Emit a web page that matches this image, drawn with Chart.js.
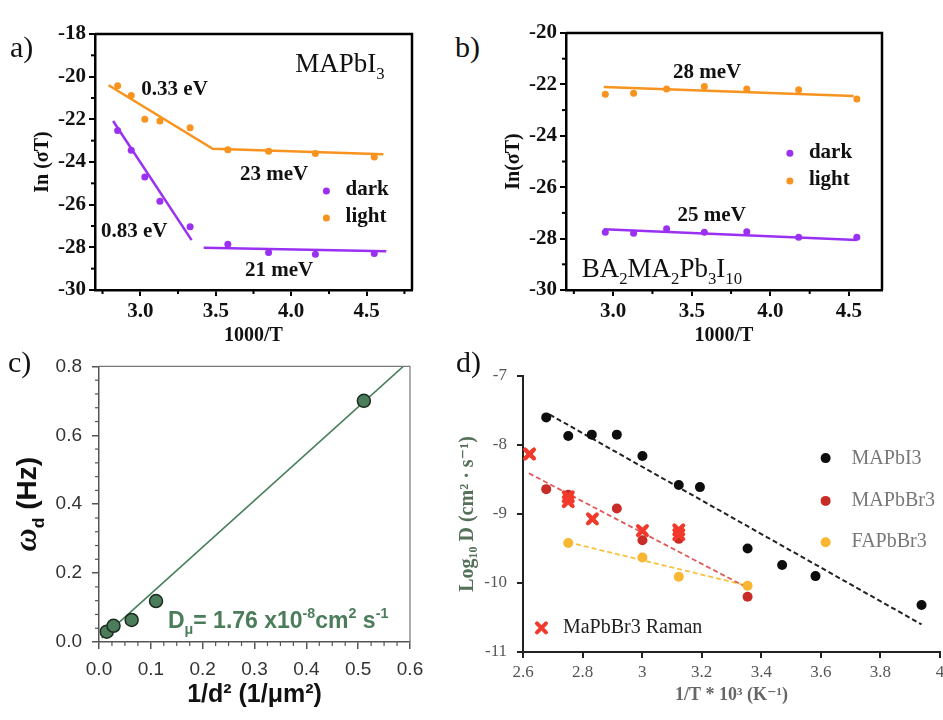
<!DOCTYPE html>
<html>
<head>
<meta charset="utf-8">
<script src="https://cdn.jsdelivr.net/npm/chart.js@4.4.1/dist/chart.umd.min.js"></script>
<style>
body { margin: 0; background: #fff; }
#fig { position: relative; width: 943px; height: 720px; overflow: hidden; background: #fff; }
canvas { position: absolute; }
.lab { position: absolute; font-family: "Liberation Serif", "DejaVu Serif", serif; font-size: 30px; line-height: 30px; color: #111; z-index: 2; }
</style>
</head>
<body>
<div id="fig">
  <canvas id="ca" width="420" height="350" style="left:30px;top:0px"></canvas>
  <canvas id="cb" width="420" height="350" style="left:500px;top:0px"></canvas>
  <canvas id="cc" width="470" height="375" style="left:0px;top:345px"></canvas>
  <canvas id="cd" width="505" height="375" style="left:445px;top:345px"></canvas>
  <div class="lab" style="left:10px;top:32px">a)</div>
  <div class="lab" style="left:455px;top:32px">b)</div>
  <div class="lab" style="left:8px;top:347px">c)</div>
  <div class="lab" style="left:456px;top:347px">d)</div>
</div>
<script>
// ---- panel a : MAPbI3 ----
const aX = [2.85, 2.94, 3.03, 3.13, 3.33, 3.58, 3.85, 4.16, 4.55];
const aLight = [-20.42, -20.88, -22.0, -22.08, -22.39, -23.42, -23.5, -23.6, -23.77];
const aDark = [-22.52, -23.45, -24.7, -25.84, -27.04, -27.85, -28.24, -28.32, -28.29];
const aLightFitX = [2.79, 3.48, 4.61];
const aLightFitY = [-20.4, -23.38, -23.64];
const aDarkFit1X = [2.82, 3.34];
const aDarkFit1Y = [-22.08, -27.66];
const aDarkFit2X = [3.42, 4.63];
const aDarkFit2Y = [-28.02, -28.18];
const aTicksX = [3.0, 3.5, 4.0, 4.5];
const aTicksY = [-30, -28, -26, -24, -22, -20, -18];
const aMinorX = [2.75, 3.25, 3.75, 4.25, 4.75];
const aMinorY = [-29, -27, -25, -23, -21, -19];

// ---- panel b : BA2MA2Pb3I10 ----
const bX = [2.95, 3.13, 3.34, 3.58, 3.85, 4.18, 4.55];
const bLight = [-22.38, -22.34, -22.18, -22.08, -22.18, -22.21, -22.57];
const bDark = [-27.75, -27.79, -27.62, -27.75, -27.73, -27.95, -27.95];
const bLightFitX = [2.94, 4.53];
const bLightFitY = [-22.1, -22.45];
const bDarkFitX = [2.94, 4.55];
const bDarkFitY = [-27.64, -28.05];
const bTicksX = [3.0, 3.5, 4.0, 4.5];
const bTicksY = [-30, -28, -26, -24, -22, -20];
const bMinorX = [2.75, 3.25, 3.75, 4.25];
const bMinorY = [-29, -27, -25, -23, -21];

// ---- panel c : omega_d vs 1/d^2 ----
const cX = [0.015, 0.028, 0.063, 0.11, 0.511];
const cY = [0.030, 0.047, 0.064, 0.119, 0.70];
const cFitX = [0.005, 0.587];
const cFitY = [0.011, 0.8];
const cTicksX = [0.0, 0.1, 0.2, 0.3, 0.4, 0.5, 0.6];
const cTicksY = [0.0, 0.2, 0.4, 0.6, 0.8];
const cMinorX = [0.025, 0.05, 0.075, 0.125, 0.15, 0.175, 0.225, 0.25, 0.275, 0.325, 0.35, 0.375,
                 0.425, 0.45, 0.475, 0.525, 0.55, 0.575];
const cMinorY = [0.04, 0.08, 0.12, 0.16, 0.24, 0.28, 0.32, 0.36, 0.44, 0.48, 0.52, 0.56, 0.64, 0.68, 0.72, 0.76];

// ---- panel d : log10 D vs 1/T ----
const dIX = [2.678, 2.752, 2.831, 2.915, 3.001, 3.123, 3.194, 3.354, 3.47, 3.582, 3.938];
const dIY = [-7.60, -7.87, -7.85, -7.85, -8.16, -8.58, -8.61, -9.50, -9.74, -9.90, -10.32];
const dIFitX = [2.69, 3.938];
const dIFitY = [-7.56, -10.60];
const dBrX = [2.678, 2.752, 2.915, 3.001, 3.123, 3.354];
const dBrY = [-8.64, -8.72, -8.92, -9.38, -9.36, -10.20];
const dBrFitX = [2.62, 3.354];
const dBrFitY = [-8.41, -10.07];
const dFAX = [2.752, 3.001, 3.123, 3.354];
const dFAY = [-9.42, -9.63, -9.91, -10.04];
const dFAFitX = [2.752, 3.354];
const dFAFitY = [-9.41, -10.04];
const dRamanX = [2.622, 2.752, 2.752, 2.833, 3.001, 3.123, 3.123];
const dRamanY = [-8.13, -8.75, -8.82, -9.07, -9.24, -9.23, -9.30];
const dTicksX = [2.6, 2.8, 3, 3.2, 3.4, 3.6, 3.8, 4];
const dTicksY = [-11, -10, -9, -8, -7];

const PURPLE = '#9a30f2';
const ORANGE = '#f7931e';
const GREEN = '#4b7d5b';
const RAMAN = '#f23a2c';
const SERIF = '"Liberation Serif", "DejaVu Serif", serif';
const SANS = '"Liberation Sans", Arial, sans-serif';

function pts(xs, ys) {
    return xs.map((x, i) => ({x: x, y: ys[i]}));
}

// text with sub / superscript runs
function drawRuns(ctx, runs, x, y, font, color, align) {
    let total = 0;
    const parts = runs.map(r => {
        const small = r.sub || r.sup;
        const size = small ? font.size * 0.62 : (r.size || font.size);
        const f = (r.style || font.style || 'normal') + ' ' + (font.weight || 'normal') + ' ' + size + 'px ' + (r.family || font.family);
        ctx.font = f;
        const w = ctx.measureText(r.t).width;
        total += w;
        return {t: r.t, f: f, w: w, dy: r.sub ? font.size * 0.28 : r.sup ? -font.size * 0.42 : 0};
    });
    let cx = align === 'center' ? x - total / 2 : align === 'right' ? x - total : x;
    ctx.fillStyle = color;
    ctx.textAlign = 'left';
    ctx.textBaseline = 'alphabetic';
    parts.forEach(p => {
        ctx.font = p.f;
        ctx.fillText(p.t, cx, y + p.dy);
        cx += p.w;
    });
}

function drawCross(ctx, x, y, r, color) {
    ctx.strokeStyle = color;
    ctx.lineWidth = 4;
    ctx.lineCap = 'round';
    ctx.beginPath();
    ctx.moveTo(x - r, y - r); ctx.lineTo(x + r, y + r);
    ctx.moveTo(x + r, y - r); ctx.lineTo(x - r, y + r);
    ctx.stroke();
}

// frame, minor ticks, annotations and hand-made legends
const extras = {
    id: 'extras',
    afterDatasetsDraw(chart, args, opts) {
        const ctx = chart.ctx, xs = chart.scales.x, ys = chart.scales.y, ca = chart.chartArea;
        ctx.save();
        if (opts.box) {
            ctx.strokeStyle = opts.box.color;
            ctx.lineWidth = opts.box.width;
            ctx.beginPath();
            ctx.moveTo(ca.left, ca.top);
            ctx.lineTo(ca.right, ca.top);
            ctx.lineTo(ca.right, ca.bottom);
            ctx.stroke();
        }
        ctx.strokeStyle = opts.minorColor || '#000';
        ctx.lineWidth = opts.minorWidth || 1.5;
        (opts.minorX || []).forEach(v => {
            const px = xs.getPixelForValue(v);
            ctx.beginPath();
            ctx.moveTo(px, ca.bottom);
            ctx.lineTo(px, ca.bottom + opts.minorLen);
            ctx.stroke();
        });
        (opts.minorY || []).forEach(v => {
            const py = ys.getPixelForValue(v);
            ctx.beginPath();
            ctx.moveTo(ca.left, py);
            ctx.lineTo(ca.left - opts.minorLen, py);
            ctx.stroke();
        });
        // Raman crosses drawn heavier than the built-in point style
        (opts.crosses || []).forEach(c => {
            c.x.forEach((v, i) => drawCross(ctx, xs.getPixelForValue(v), ys.getPixelForValue(c.y[i]), c.r, c.color));
        });
        (opts.items || []).forEach(it => {
            const px = xs.getPixelForValue(it.x), py = ys.getPixelForValue(it.y);
            if (it.dot) {
                ctx.fillStyle = it.dot;
                ctx.beginPath();
                ctx.arc(px, py, it.r, 0, Math.PI * 2);
                ctx.fill();
            } else if (it.cross) {
                drawCross(ctx, px, py, it.r, it.cross);
            } else {
                drawRuns(ctx, it.runs, px, py, it.font, it.color, it.align);
            }
        });
        if (opts.yTitle) {
            const t = opts.yTitle;
            ctx.translate(t.x, (ca.top + ca.bottom) / 2);
            ctx.rotate(-Math.PI / 2);
            drawRuns(ctx, t.runs, 0, 0, t.font, t.color, 'center');
        }
        ctx.restore();
    }
};

function axis(o) {
    return {
        type: 'linear',
        position: o.pos,
        min: o.min, max: o.max,
        afterBuildTicks: s => { s.ticks = o.ticks.map(v => ({value: v})); },
        afterFit: s => { if (o.pos === 'left') s.width = o.size; else s.height = o.size; },
        ticks: {
            font: o.font, color: o.color, padding: o.pad, maxRotation: 0, autoSkip: false,
            callback: o.fmt
        },
        grid: { display: true, drawOnChartArea: false, drawTicks: true, tickLength: o.tl, color: o.lineColor, lineWidth: o.lineW },
        border: { display: true, color: o.lineColor, width: o.borderW },
        title: { display: !!o.title, text: o.title, font: o.titleFont, color: o.titleColor || o.color, padding: o.titlePad }
    };
}

function scatterChart(id, datasets, padding, scales, extraOpts) {
    return new Chart(document.getElementById(id), {
        type: 'scatter',
        data: { datasets: datasets },
        options: {
            responsive: false, animation: false, devicePixelRatio: 1,
            layout: { padding: padding },
            plugins: { legend: { display: false }, tooltip: { enabled: false }, extras: extraOpts },
            scales: scales
        },
        plugins: [extras]
    });
}

function dots(xs, ys, color, r) {
    return { data: pts(xs, ys), pointRadius: r, pointBackgroundColor: color, pointBorderWidth: 0, order: 1 };
}
function fit(xs, ys, color, w, dash) {
    return { data: pts(xs, ys), showLine: true, pointRadius: 0, borderColor: color, borderWidth: w,
             borderDash: dash || [], fill: false, tension: 0, order: 2 };
}

const abTickFont = { family: SERIF, size: 21, weight: 'bold' };
const abTitleFont = { family: SERIF, size: 20, weight: 'bold' };
const fmt1 = v => v.toFixed(1);
const fmt0 = v => String(v);
const boldSerif = { family: SERIF, size: 21, weight: 'bold' };

// ---------- a ----------
scatterChart('ca', [
    fit(aLightFitX, aLightFitY, ORANGE, 2.5),
    fit(aDarkFit1X, aDarkFit1Y, PURPLE, 2.5),
    fit(aDarkFit2X, aDarkFit2Y, PURPLE, 2.5),
    dots(aX, aLight, ORANGE, 3.5),
    dots(aX, aDark, PURPLE, 3.5)
], { left: 0, right: 38, top: 34, bottom: 0 }, {
    x: axis({ pos: 'bottom', min: 2.7, max: 4.8, ticks: aTicksX, size: 60, font: abTickFont, color: '#111', pad: 3, tl: 6,
              fmt: fmt1, lineColor: '#000', lineW: 2, borderW: 2.5, title: '1000/T', titleFont: abTitleFont, titlePad: { top: 0, bottom: 2 } }),
    y: axis({ pos: 'left', min: -30, max: -18, ticks: aTicksY, size: 65, font: abTickFont, color: '#111', pad: 3, tl: 6,
              fmt: fmt0, lineColor: '#000', lineW: 2, borderW: 2.5, title: 'In (σT)', titleFont: abTitleFont, titlePad: { top: 1, bottom: 0 } })
}, {
    box: { color: '#000', width: 2.5 }, minorX: aMinorX, minorY: aMinorY, minorLen: 4, minorWidth: 2,
    items: [
        { x: 3.007, y: -20.86, runs: [{ t: '0.33 eV' }], font: boldSerif, color: '#111' },
        { x: 3.66, y: -24.84, runs: [{ t: '23 meV' }], font: boldSerif, color: '#111' },
        { x: 2.74, y: -27.5, runs: [{ t: '0.83 eV' }], font: boldSerif, color: '#111' },
        { x: 3.693, y: -29.35, runs: [{ t: '21 meV' }], font: boldSerif, color: '#111' },
        { x: 4.027, y: -19.77, runs: [{ t: 'MAPbI' }, { t: '3', sub: true }], font: { family: SERIF, size: 27 }, color: '#111' },
        { x: 4.233, y: -25.36, dot: PURPLE, r: 3.5 },
        { x: 4.36, y: -25.55, runs: [{ t: 'dark' }], font: boldSerif, color: '#111' },
        { x: 4.233, y: -26.63, dot: ORANGE, r: 3.5 },
        { x: 4.36, y: -26.8, runs: [{ t: 'light' }], font: boldSerif, color: '#111' }
    ]
});

// ---------- b ----------
scatterChart('cb', [
    fit(bLightFitX, bLightFitY, ORANGE, 2.5),
    fit(bDarkFitX, bDarkFitY, PURPLE, 2.5),
    dots(bX, bLight, ORANGE, 3.5),
    dots(bX, bDark, PURPLE, 3.5)
], { left: 0, right: 38, top: 33, bottom: 0 }, {
    x: axis({ pos: 'bottom', min: 2.7, max: 4.71, ticks: bTicksX, size: 60, font: abTickFont, color: '#111', pad: 3, tl: 6,
              fmt: fmt1, lineColor: '#000', lineW: 2, borderW: 2.5, title: '1000/T', titleFont: abTitleFont, titlePad: { top: 0, bottom: 2 } }),
    y: axis({ pos: 'left', min: -30, max: -20, ticks: bTicksY, size: 66, font: abTickFont, color: '#111', pad: 3, tl: 6,
              fmt: fmt0, lineColor: '#000', lineW: 2, borderW: 2.5, title: 'In(σT)', titleFont: abTitleFont, titlePad: { top: 2, bottom: 0 } })
}, {
    box: { color: '#000', width: 2.5 }, minorX: bMinorX, minorY: bMinorY, minorLen: 4, minorWidth: 2,
    items: [
        { x: 3.38, y: -21.76, runs: [{ t: '28 meV' }], font: boldSerif, color: '#111' },
        { x: 3.41, y: -27.30, runs: [{ t: '25 meV' }], font: boldSerif, color: '#111' },
        { x: 4.124, y: -24.68, dot: PURPLE, r: 3.5 },
        { x: 4.245, y: -24.88, runs: [{ t: 'dark' }], font: boldSerif, color: '#111' },
        { x: 4.124, y: -25.76, dot: ORANGE, r: 3.5 },
        { x: 4.245, y: -25.91, runs: [{ t: 'light' }], font: boldSerif, color: '#111' },
        { x: 2.80, y: -29.48, runs: [{ t: 'BA' }, { t: '2', sub: true }, { t: 'MA' }, { t: '2', sub: true }, { t: 'Pb' }, { t: '3', sub: true }, { t: 'I' }, { t: '10', sub: true }],
          font: { family: SERIF, size: 27 }, color: '#111' }
    ]
});

// ---------- c ----------
const cTick = { family: SANS, size: 19 };
scatterChart('cc', [
    fit(cFitX, cFitY, '#4a7f5c', 1.6),
    { data: pts(cX, cY), pointRadius: 6.5, pointBackgroundColor: GREEN, pointBorderColor: '#1c2a20', pointBorderWidth: 1.5, order: 1 }
], { left: 0, right: 60, top: 17, bottom: 0 }, {
    x: axis({ pos: 'bottom', min: 0, max: 0.6, ticks: cTicksX, size: 78, font: cTick, color: '#333', pad: 9, tl: 7,
              fmt: fmt1, lineColor: '#555', lineW: 1.5, borderW: 1.5, title: '1/d² (1/μm²)',
              titleFont: { family: SANS, size: 25, weight: 'bold' }, titleColor: '#111', titlePad: { top: 0, bottom: 10 } }),
    y: axis({ pos: 'left', min: 0, max: 0.8, ticks: cTicksY, size: 99, font: cTick, color: '#333', pad: 10, tl: 7,
              fmt: fmt1, lineColor: '#555', lineW: 1.5, borderW: 1.5 })
}, {
    box: { color: '#777', width: 1.2 }, minorX: cMinorX, minorY: cMinorY, minorLen: 4, minorColor: '#555', minorWidth: 1.2,
    items: [
        { x: 0.133, y: 0.041, runs: [{ t: 'D' }, { t: 'μ', sub: true }, { t: '= 1.76 x10' }, { t: '-8', sup: true }, { t: 'cm' }, { t: '2', sup: true }, { t: ' s' }, { t: '-1', sup: true }],
          font: { family: SANS, size: 23, weight: 'bold' }, color: GREEN }
    ],
    yTitle: { x: 36, runs: [{ t: 'ω', style: 'italic', family: SERIF, size: 32 }, { t: 'd', sub: true }, { t: ' (Hz)' }],
              font: { family: SANS, size: 28, weight: 'bold' }, color: '#111' }
});

// ---------- d ----------
const dTick = { family: SERIF, size: 17 };
const dLeg = { family: SERIF, size: 20 };
scatterChart('cd', [
    fit(dIFitX, dIFitY, '#222', 2, [5, 3]),
    fit(dBrFitX, dBrFitY, '#df5a56', 1.8, [5, 3]),
    fit(dFAFitX, dFAFitY, '#f6c242', 1.8, [5, 3]),
    dots(dIX, dIY, '#0d0d0d', 5),
    dots(dBrX, dBrY, '#c92b26', 5),
    dots(dFAX, dFAY, '#f8b632', 5),
    { data: pts(dRamanX, dRamanY), pointStyle: 'crossRot', pointRadius: 6, pointBorderColor: RAMAN, pointBorderWidth: 4, order: 0 }
], { left: 0, right: 10, top: 31, bottom: 0 }, {
    x: axis({ pos: 'bottom', min: 2.6, max: 4, ticks: dTicksX, size: 68, font: dTick, color: '#555', pad: 4, tl: 6,
              fmt: fmt0, lineColor: '#222', lineW: 2, borderW: 2, title: '1/T * 10³ (K⁻¹)',
              titleFont: { family: SERIF, size: 18, weight: 'bold' }, titleColor: '#666', titlePad: { top: 0, bottom: 14 } }),
    y: axis({ pos: 'left', min: -11, max: -7, ticks: dTicksY, size: 78, font: dTick, color: '#555', pad: 10, tl: 6,
              fmt: fmt0, lineColor: '#222', lineW: 2, borderW: 2, title: 'Log₁₀ D (cm² · s⁻¹)',
              titleFont: { family: SERIF, size: 20, weight: 'bold' }, titleColor: '#56715a', titlePad: { top: 11, bottom: 0 } })
}, {
    crosses: [{ x: dRamanX, y: dRamanY, r: 4.5, color: RAMAN }],
    items: [
        { x: 3.616, y: -8.19, dot: '#0d0d0d', r: 5 },
        { x: 3.703, y: -8.27, runs: [{ t: 'MAPbI3' }], font: dLeg, color: '#777' },
        { x: 3.616, y: -8.81, dot: '#c92b26', r: 5 },
        { x: 3.703, y: -8.88, runs: [{ t: 'MAPbBr3' }], font: dLeg, color: '#777' },
        { x: 3.616, y: -9.41, dot: '#f8b632', r: 5 },
        { x: 3.703, y: -9.48, runs: [{ t: 'FAPbBr3' }], font: dLeg, color: '#777' },
        { x: 2.662, y: -10.65, cross: RAMAN, r: 4.5 },
        { x: 2.734, y: -10.73, runs: [{ t: 'MaPbBr3 Raman' }], font: dLeg, color: '#222' }
    ]
});
</script>
</body>
</html>
